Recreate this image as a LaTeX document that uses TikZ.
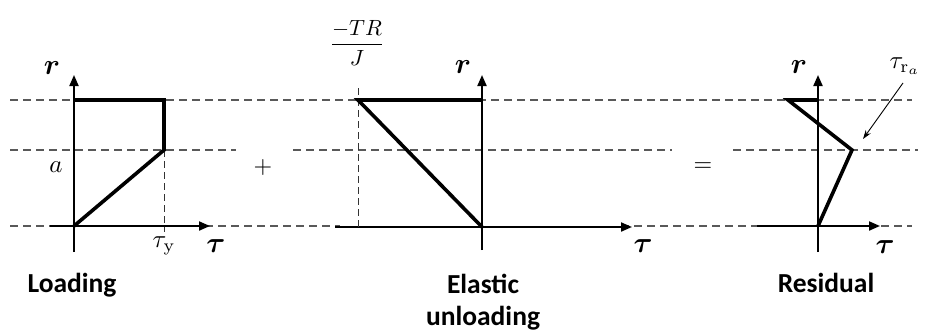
\documentclass[tikz,border=0pt]{standalone}
\usepackage{fontspec}
\usepackage{amsmath,bm,graphicx}
\newfontfamily\labfont{Carlito}
\usetikzlibrary{arrows.meta}
\newcommand{\mbig}[1]{\scalebox{2.9}{$#1$}}
\newcommand{\mmid}[1]{\scalebox{2.5}{$#1$}}
\begin{document}
\begin{tikzpicture}[x=1pt,y=-1pt,
  guide/.style={draw=black!65, line width=1.2pt, dash pattern=on 8pt off 5pt},
  axis/.style={line width=2pt, -{Triangle[length=11pt,width=9pt]}},
  curve/.style={line width=3.6pt, line join=miter},
  thin dash/.style={draw=black!80, line width=1pt, dash pattern=on 7pt off 4pt},
  lab/.style={font=\labfont\bfseries\fontsize{27.5}{32}\selectfont, inner sep=0pt},
  mnode/.style={inner sep=0pt},
  pointer/.style={line width=0.9pt, -{Stealth[length=9pt,width=6pt]}}]
\useasboundingbox (0,0) rectangle (925,332);

% horizontal guide lines
\coordinate (t1) at (10,100);  \coordinate (t2) at (912,100);
\coordinate (m1) at (10,150);  \coordinate (m2) at (236,150);
\coordinate (m3) at (293,150); \coordinate (m4) at (672,150);
\coordinate (m5) at (733,150); \coordinate (m6) at (918,150);
\coordinate (b1) at (10,226);  \coordinate (b2) at (912,226);
\draw[guide] (t1) -- (t2);
\draw[guide] (m1) -- (m2);
\draw[guide] (m3) -- (m4);
\draw[guide] (m5) -- (m6);
\draw[guide] (b1) -- (b2);

% ---- Loading ----
\coordinate (o1) at (74,226);
\coordinate (ya1) at (74,252); \coordinate (yb1) at (74,75);
\coordinate (xa1) at (50,226); \coordinate (xb1) at (210,226);
\coordinate (p1) at (164,150); \coordinate (p2) at (164,100); \coordinate (p3) at (74,100);
\coordinate (p4) at (164,232);
\draw[fill=white,draw=none] (60,218) rectangle (200,234);
\draw[axis] (ya1) -- (yb1);
\draw[axis] (xa1) -- (xb1);
\draw[thin dash] (p1) -- (p4);
\draw[curve] (o1) -- (p1) -- (p2) -- (p3);
\node[mnode] (r1) at (52,68) {\mbig{\boldsymbol{r}}};
\node[mnode] (tau1) at (216,246) {\mbig{\boldsymbol{\tau}}};
\node[mnode] (ty) at (164,246) {\mmid{\tau_{\mathrm{y}}}};
\node[mnode] (a) at (56,167) {\mmid{a}};
\node[lab,anchor=base] (load) at (72,292) {Loading};

\node[mnode] (plus) at (263,167) {\scalebox{2.4}{$+$}};

% ---- Elastic unloading ----
\coordinate (o2) at (482,227);
\coordinate (ya2) at (482,250); \coordinate (yb2) at (482,75);
\coordinate (xa2) at (335,227); \coordinate (xb2) at (632,227);
\coordinate (q1) at (358,100); \coordinate (q2) at (482,100);
\coordinate (d1) at (358,88);  \coordinate (d2) at (358,227);
\draw[fill=white,draw=none] (340,219) rectangle (620,235);
\draw[axis] (ya2) -- (yb2);
\draw[axis] (xa2) -- (xb2);
\draw[thin dash] (d1) -- (d2);
\draw[curve] (o2) -- (q1) -- (q2);
\node[mnode] (r2) at (463,67) {\mbig{\boldsymbol{r}}};
\node[mnode] (tau2) at (643,246) {\mbig{\boldsymbol{\tau}}};
\node[mnode] (frac) at (357,43) {\scalebox{2.2}{$\dfrac{-TR}{J}$}};
\node[lab,anchor=base] (el) at (483,293) {Elastic};
\node[lab,anchor=base] (unl) at (483,325) {unloading};

\node[mnode] (eq) at (703,167) {\scalebox{2.4}{$=$}};

% ---- Residual ----
\coordinate (o3) at (818,226);
\coordinate (ya3) at (818,252); \coordinate (yb3) at (818,75);
\coordinate (xa3) at (757,226); \coordinate (xb3) at (880,226);
\coordinate (s1) at (852,150); \coordinate (s2) at (788,100); \coordinate (s3) at (818,100);
\draw[fill=white,draw=none] (765,218) rectangle (870,234);
\draw[axis] (ya3) -- (yb3);
\draw[axis] (xa3) -- (xb3);
\draw[curve] (o3) -- (s1) -- (s2) -- (s3);
\node[mnode] (r3) at (799,67) {\mbig{\boldsymbol{r}}};
\node[mnode] (tau3) at (885,247) {\mbig{\boldsymbol{\tau}}};
\node[mnode] (tra) at (905,66) {\mmid{\tau_{\mathrm{r}_a}}};
\coordinate (pa) at (903,83); \coordinate (pb) at (863,139);
\draw[pointer] (pa) -- (pb);
\node[lab,anchor=base] (res) at (826,292) {Residual};
\end{tikzpicture}
\end{document}
